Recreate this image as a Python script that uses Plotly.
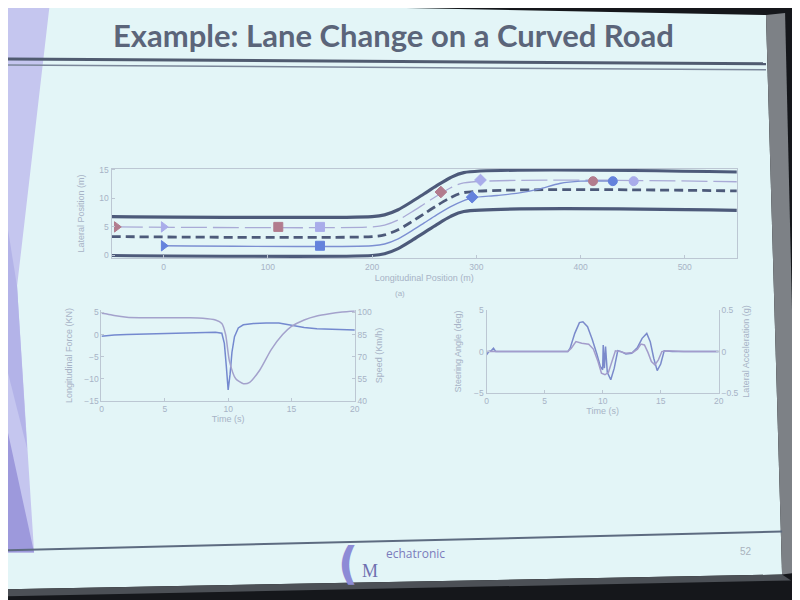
import plotly.graph_objects as go

W, H = 800, 600

# ---------------- data ----------------
# top plot: road geometry (m)
road_x = [-50, 200, 212, 225, 238, 250, 262, 275, 288, 550]
road_lower = [0.0, 0.0, 0.3, 1.2, 2.6, 4.0, 5.4, 6.8, 7.7, 7.9]
road_upper = [6.8, 6.8, 7.1, 8.0, 9.4, 10.8, 12.2, 13.6, 14.5, 14.6]
road_center = [3.3, 3.3, 3.6, 4.5, 5.9, 7.3, 8.7, 10.1, 11.0, 11.3]
lane_up_x = [-45, 200, 212, 225, 238, 250, 262, 275, 288, 550]
lane_up_y = [5.0, 5.0, 5.3, 6.2, 7.6, 9.0, 10.4, 11.8, 12.7, 12.9]
blue_x = [0, 200, 212, 225, 238, 250, 262, 275, 288, 296, 320, 340, 360, 380, 400, 431]
blue_y = [1.7, 1.7, 2.0, 2.9, 4.3, 5.7, 7.1, 8.5, 9.6, 10.1, 10.5, 10.9, 11.6, 12.6, 13.0, 13.0]

red_mx = [-45, 110, 266, 412]
red_my = [5.0, 5.0, 11.1, 13.0]
pur_mx = [0, 150, 304, 451]
pur_my = [5.0, 5.0, 13.2, 13.0]
blu_mx = [0, 150, 296, 431]
blu_my = [1.7, 1.7, 10.2, 13.0]
marker_symbols = ["triangle-right", "square", "diamond", "circle"]

pos_ticks = [0, 100, 200, 300, 400, 500]
lat_ticks = [0, 5, 10, 15]

# bottom-left: force (kN) and speed (km/h) vs time (s)
force_t = [0, 0.3, 1, 2, 4, 6, 8, 9, 9.5, 9.7, 9.85, 10.0, 10.15, 10.3, 10.5, 10.8, 11.2, 12, 13, 14, 15, 16, 17, 18, 19, 20]
force_v = [-0.4, -0.3, -0.1, 0.0, 0.1, 0.2, 0.3, 0.5, 0.3, -2.0, -7.0, -12.5, -9.0, -4.0, -0.5, 1.5, 2.2, 2.5, 2.6, 2.6, 2.1, 1.6, 1.3, 1.2, 1.1, 1.0]
speed_t = [0, 0.5, 1, 2, 3, 5, 7, 8, 9, 9.5, 9.8, 10.1, 10.6, 11.2, 11.7, 12.5, 13.4, 14.3, 15, 16, 17, 18, 19, 20]
speed_v = [99.4, 98.8, 97.9, 96.7, 96.4, 96.4, 96.4, 96.1, 94.9, 92.5, 85, 67, 55, 51.7, 52.6, 61, 74.8, 85, 90.5, 94.9, 97.6, 99.1, 100.2, 100.9]
force_ticks = [-15, -10, -5, 0, 5]
speed_ticks = [40, 55, 70, 85, 100]
time_ticks = [0, 5, 10, 15, 20]

# bottom-right: steering angle (deg) and lateral acceleration (g)
steer_t = [0, 0.2, 0.4, 0.6, 0.8, 1.2, 3, 5, 7, 7.2, 7.6, 8.0, 8.3, 8.7, 9.1, 9.5, 9.8, 10.0, 10.05, 10.15, 10.25, 10.4,
           10.7, 11.0, 11.3, 11.6, 12, 12.5, 13.0, 13.4, 13.8, 14.1, 14.4, 14.7, 15.0, 15.3, 16, 18, 20]
steer_v = [-0.4, 0.0, 0.1, 0.4, 0.0, 0.0, 0.0, 0.0, 0.0, 0.4, 2.2, 3.5, 3.6, 3.0, 1.5, -0.3, -1.8, -2.2, 0.8, -2.0, 0.6, -2.5,
           -3.4, -2.0, 0.1, 0.0, -0.3, -0.2, 0.5, 1.6, 2.2, 1.2, -0.8, -2.3, -1.5, 0.1, 0.0, 0.0, 0.0]
latacc_t = [0, 0.5, 1, 3, 5, 7, 7.3, 7.7, 8.2, 8.8, 9.2, 9.6, 9.9, 10.2, 10.5, 10.8, 11.1, 11.5, 12, 12.6, 13.0, 13.3,
            13.6, 13.9, 14.2, 14.5, 14.8, 15.1, 15.5, 17, 20]
latacc_v = [0, 0.005, 0, 0, 0, 0, 0.04, 0.12, 0.10, 0.09, 0.03, -0.12, -0.26, -0.28, -0.25, -0.12, 0.01, 0, -0.02, -0.01,
            0.03, 0.09, 0.08, -0.01, -0.12, -0.16, -0.10, 0, 0.01, 0, 0]
steer_ticks = [-5, 0, 5]
acc_ticks = [-0.5, 0, 0.5]

# ---------------- styling ----------------
AX = "#a7b3c6"
LINE = "#bcc7d3"
FONT = "Liberation Sans"
C_ROAD = "#4d5a7a"
C_RED = "#b27c8e"
C_PUR = "#a9acea"
C_BLU = "#6482dc"


def T(v):
    # screen-placement correction
    return (v - 13) / 0.986


def px(x):
    return T(x) / W


def py(y):
    return 1 - T(y) / H


def path(pts):
    return "M " + " L ".join(f"{px(x):.4f},{py(y):.4f}" for x, y in pts) + " Z"


fig = go.Figure()

spl = dict(shape="spline", smoothing=0.8)
fig.add_trace(go.Scatter(x=road_x, y=road_lower, mode="lines", line=dict(color=C_ROAD, width=3.2, **spl), xaxis="x", yaxis="y"))
fig.add_trace(go.Scatter(x=road_x, y=road_upper, mode="lines", line=dict(color=C_ROAD, width=3.2, **spl), xaxis="x", yaxis="y"))
fig.add_trace(go.Scatter(x=road_x, y=road_center, mode="lines",
                         line=dict(color=C_ROAD, width=2.8, dash="9px,5px", **spl), xaxis="x", yaxis="y"))
fig.add_trace(go.Scatter(x=lane_up_x, y=lane_up_y, mode="lines",
                         line=dict(color="#a9aad6", width=1.3, dash="26px,6px", **spl), xaxis="x", yaxis="y"))
fig.add_trace(go.Scatter(x=blue_x, y=blue_y, mode="lines",
                         line=dict(color="#7c8fd2", width=1.4, **spl), xaxis="x", yaxis="y"))
for mx, my, col in [(red_mx, red_my, C_RED), (pur_mx, pur_my, C_PUR), (blu_mx, blu_my, C_BLU)]:
    fig.add_trace(go.Scatter(x=mx, y=my, mode="markers",
                             marker=dict(symbol=marker_symbols, size=9, color=col, line=dict(color=col, width=1)),
                             xaxis="x", yaxis="y"))

fig.add_trace(go.Scatter(x=force_t, y=force_v, mode="lines", line=dict(color="#7489cf", width=1.5), xaxis="x2", yaxis="y2"))
fig.add_trace(go.Scatter(x=speed_t, y=speed_v, mode="lines",
                         line=dict(color="#a4a2cc", width=1.5, shape="spline", smoothing=0.6), xaxis="x2", yaxis="y3"))
fig.add_trace(go.Scatter(x=steer_t, y=steer_v, mode="lines", line=dict(color="#7a8acb", width=1.5), xaxis="x4", yaxis="y4"))
fig.add_trace(go.Scatter(x=latacc_t, y=latacc_v, mode="lines", line=dict(color="#a39ccb", width=1.5), xaxis="x4", yaxis="y5"))

tickfont = dict(family=FONT, size=8.5, color=AX)
titlefont = dict(family=FONT, size=9, color=AX)


def xax(x0, x1, rng, ticks, title, anchor, standoff=2, mirror=True):
    return dict(domain=[px(x0), px(x1)], range=rng, tickvals=ticks, ticks="inside", ticklen=3,
                tickcolor=LINE, showline=True, linecolor=LINE, linewidth=1, mirror=mirror,
                showgrid=False, zeroline=False, anchor=anchor, tickfont=tickfont,
                title=dict(text=title, font=titlefont, standoff=standoff), fixedrange=True)


def yax(y0, y1, rng, ticks, title, anchor, side="left", overlaying=None, standoff=4, mirror=False):
    d = dict(domain=[py(y1), py(y0)], range=rng, tickvals=ticks, ticks="inside", ticklen=3,
             tickcolor=LINE, showline=True, linecolor=LINE, linewidth=1, mirror=mirror,
             showgrid=False, zeroline=False, anchor=anchor, side=side, tickfont=tickfont,
             title=dict(text=title, font=titlefont, standoff=standoff), fixedrange=True)
    if overlaying:
        d["overlaying"] = overlaying
    return d


fig.update_layout(
    width=W, height=H, margin=dict(l=0, r=0, t=0, b=0),
    paper_bgcolor="#15171b", plot_bgcolor="rgba(0,0,0,0)", showlegend=False,
    xaxis=xax(114, 736, [-50, 550], pos_ticks, "Longitudinal Position (m)", "y", standoff=4),
    yaxis=yax(169, 259, [-0.5, 15.2], lat_ticks, "Lateral Position (m)", "x", mirror=True, standoff=13),
    xaxis2=xax(104, 356, [0, 20], time_ticks, "Time (s)", "y2", mirror=False),
    yaxis2=yax(311, 402, [-15, 5.5], force_ticks, "Longitudinal Force (KN)", "x2", standoff=10),
    yaxis3=yax(311, 402, [40, 101.5], speed_ticks, "Speed (Km/h)", "x2", side="right", overlaying="y2", standoff=4),
    xaxis4=xax(487, 718, [0, 20], time_ticks, "Time (s)", "y4", mirror=False),
    yaxis4=yax(311, 394, [-5, 5], steer_ticks, "Steering Angle (deg)", "x4", standoff=10),
    yaxis5=yax(311, 394, [-0.5, 0.5], acc_ticks, "Lateral Acceleration (g)", "x4", side="right", overlaying="y4", standoff=5),
)

S = lambda pts, col: dict(type="path", xref="paper", yref="paper", layer="below", path=path(pts),
                          fillcolor=col, line=dict(width=0))
L = lambda a, b, col, w: dict(type="line", xref="paper", yref="paper", layer="below",
                              x0=px(a[0]), y0=py(a[1]), x1=px(b[0]), y1=py(b[1]), line=dict(color=col, width=w))
shapes = [
    S([(0, 0), (765, 15), (781, 576), (0, 591)], "#e3f5f7"),          # slide
    S([(765, 15), (784, 13), (797, 574), (781, 576)], "#7d8186"),     # right gray edge
    S([(0, 591), (781, 576), (790, 582), (0, 598)], "#4c5056"),       # bottom edge
    S([(0, 0), (53, 0), (20, 287), (37, 554), (0, 554)], "#c5c6ef"),  # left decoration
    S([(0, 161), (20, 287), (30, 450), (0, 330)], "#b3b3e8"),
    S([(0, 383), (37, 554), (0, 554)], "#9d99dc"),
    L((0, 59), (765, 64), "#505b70", 3),
    L((0, 65), (765, 70), "#7b879a", 1.5),
    L((0, 552), (781, 533), "#5d6b80", 2),
]
fig.update_layout(shapes=shapes)

A = lambda text, x, y, font, xa="center": dict(text=text, x=px(x), y=py(y), xref="paper", yref="paper", showarrow=False,
                                               font=font, xanchor=xa, yanchor="middle")
ann = [
    A("<b>Example: Lane Change on a Curved Road</b>", 394, 35, dict(family="Lato", size=31, color="#5b657a")),
    A("(a)", 401, 294, dict(family=FONT, size=8, color=AX)),
    A("<b>(</b>", 349, 565, dict(family="DejaVu Sans", size=44, color="#8d8bd6")),
    A("M", 371, 573, dict(family="Liberation Serif", size=18, color="#6f70b0")),
    A("echatronic", 385, 555, dict(family="Open Sans", size=12, color="#7b7cbc"), "left"),
    A("52", 745, 553, dict(family=FONT, size=10, color="#a9b3bd")),
]
fig.update_layout(annotations=ann)

fig.write_html("out.html")
